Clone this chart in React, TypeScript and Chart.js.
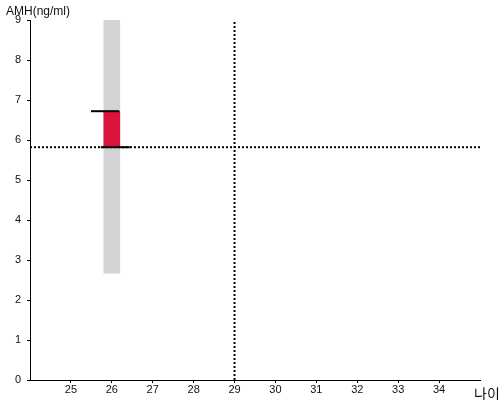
import React, { useEffect, useRef } from "react";
import { Chart, registerables } from "chart.js";

Chart.register(...registerables);

const rangeBar = { x: 26, low: 2.67, high: 9 };
const valueBar = { x: 26, low: 5.82, high: 6.72 };
const upperMark = { x1: 25.49, x2: 26.18, y: 6.72 };
const lowerMark = { x1: 25.73, x2: 26.44, y: 5.82 };
const refAge = 29;
const refAmh = 5.82;
const xMin = 24;
const xMax = 35;
const yMin = 0;
const yMax = 9;
const yTitle = "AMH(ng/ml)";
const xTitle = "나이";

const textPlugin = {
  id: "texts",
  afterDraw(chart: any) {
    const ctx = chart.ctx;
    ctx.save();
    ctx.fillStyle = "#111";
    ctx.textBaseline = "alphabetic";
    ctx.font = "12px 'Liberation Sans', Arial, sans-serif";
    ctx.textAlign = "left";
    ctx.fillText(yTitle, 6, 15);
    ctx.font = "14px 'Noto Sans CJK KR', sans-serif";
    ctx.fillText(xTitle, 474, 399);
    ctx.restore();
  },
};

export default function App() {
  const ref = useRef<HTMLCanvasElement>(null);
  useEffect(() => {
    document.body.style.margin = "0";
    const chart = new Chart(ref.current!, {
      type: "bar",
      data: {
        datasets: [
          {
            type: "line",
            data: [
              { x: xMin, y: refAmh },
              { x: xMax, y: refAmh },
            ],
            borderColor: "#000",
            borderWidth: 2,
            borderDash: [2, 2],
            pointRadius: 0,
            order: 0,
          } as any,
          {
            type: "line",
            data: [
              { x: refAge, y: yMin },
              { x: refAge, y: yMax },
            ],
            borderColor: "#000",
            borderWidth: 2,
            borderDash: [2, 2],
            pointRadius: 0,
            order: 0,
          } as any,
          {
            type: "line",
            data: [
              { x: upperMark.x1, y: upperMark.y },
              { x: upperMark.x2, y: upperMark.y },
            ],
            borderColor: "#000",
            borderWidth: 2,
            pointRadius: 0,
            order: -1,
          } as any,
          {
            type: "line",
            data: [
              { x: lowerMark.x1, y: lowerMark.y },
              { x: lowerMark.x2, y: lowerMark.y },
            ],
            borderColor: "#000",
            borderWidth: 2,
            pointRadius: 0,
            order: -1,
          } as any,
          {
            type: "bar",
            data: [{ x: valueBar.x, y: [valueBar.low, valueBar.high] }],
            backgroundColor: "#dc143c",
            barThickness: 16,
            grouped: false,
            order: 1,
          } as any,
          {
            type: "bar",
            data: [{ x: rangeBar.x, y: [rangeBar.low, rangeBar.high] }],
            backgroundColor: "#d3d3d3",
            barThickness: 16,
            grouped: false,
            order: 2,
          } as any,
        ],
      },
      options: {
        animation: false,
        responsive: false,
        layout: { padding: { top: 20, right: 20, left: 0, bottom: 0 } },
        plugins: { legend: { display: false }, tooltip: { enabled: false } },
        scales: {
          x: {
            type: "linear",
            min: xMin,
            max: xMax,
            offset: false,
            grid: { drawOnChartArea: false, offset: false, tickLength: 3, color: "#000" },
            border: { color: "#000", width: 1 },
            ticks: {
              stepSize: 1,
              autoSkip: false,
              maxRotation: 0,
              padding: 0,
              color: "#111",
              font: { size: 11, family: "'Liberation Sans', Arial, sans-serif" },
            },
            afterBuildTicks: (s: any) => {
              s.ticks = s.ticks.filter((t: any) => t.value > xMin && t.value < xMax);
            },
            afterFit: (s: any) => {
              s.height = 20;
            },
          },
          y: {
            min: yMin,
            max: yMax,
            grid: { drawOnChartArea: false, tickLength: 3, color: "#000" },
            border: { color: "#000", width: 1 },
            ticks: {
              stepSize: 1,
              padding: 6,
              color: "#111",
              font: { size: 11, family: "'Liberation Sans', Arial, sans-serif" },
            },
            afterFit: (s: any) => {
              s.width = 30;
            },
          },
        },
      },
      plugins: [textPlugin],
    });
    return () => chart.destroy();
  }, []);
  return (
    <div style={{ width: 500, height: 400 }}>
      <canvas ref={ref} width={500} height={400} />
    </div>
  );
}
